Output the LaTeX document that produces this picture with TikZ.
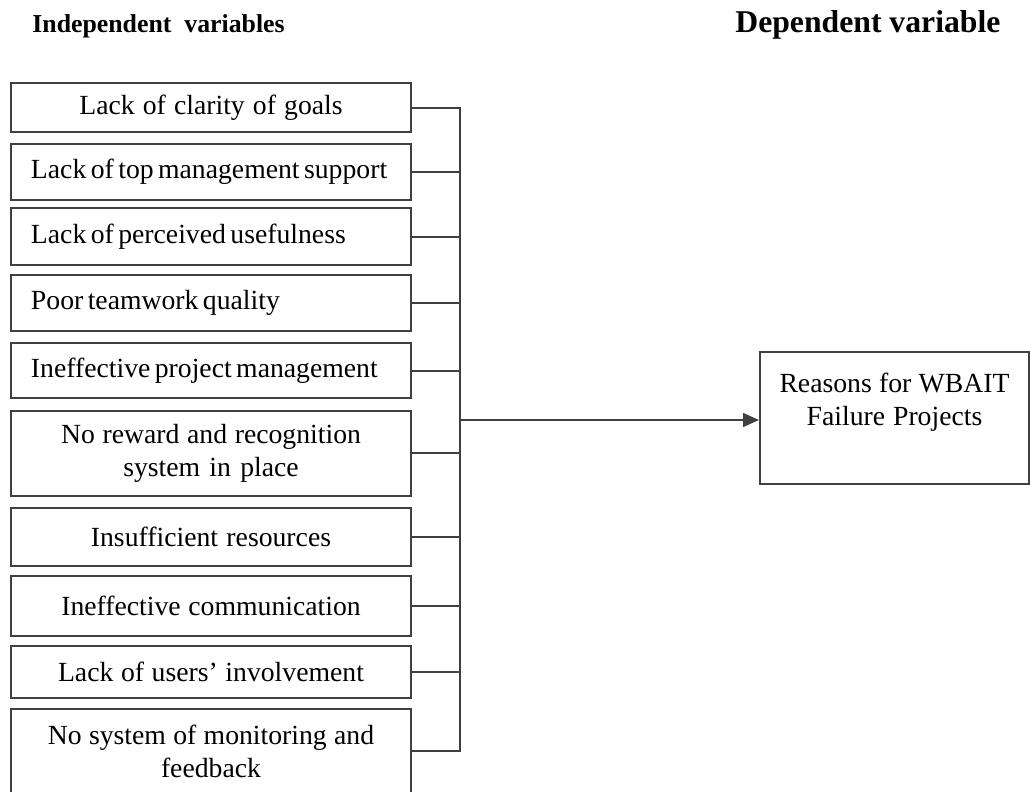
\documentclass[tikz,border=0pt]{standalone}
\usepackage{fontspec}
\setmainfont{Liberation Serif}
\usetikzlibrary{arrows.meta}

\DeclareRobustCommand{\wordgap}[1]{\spaceskip=#1 plus 0.05em minus 0.05em\relax}

\begin{document}
\begin{tikzpicture}[x=0.5pt, y=-0.5pt,
				factor/.style={rectangle, draw=black!75, line width=1pt, text width=180pt, inner xsep=10pt, inner ysep=0pt, align=center, font=\fontsize{13.85}{16.5}\selectfont, execute at begin node={\wordgap{0.25em}}},
				lfactor/.style={factor, align=left, execute at begin node={\wordgap{0.16em}}},
				outcome/.style={rectangle, draw=black!75, line width=1pt, minimum width=134.5pt, minimum height=65.5pt, inner sep=0pt},
				head/.style={inner sep=0pt, anchor=base west},
				link/.style={draw=black!75, line width=0.8pt},
				arrow/.style={link, -{Triangle[length=8pt, width=7pt]}}]

					\useasboundingbox (0,0) rectangle (1030,792);

					\node[head, font=\fontsize{12.9}{15}\selectfont\bfseries] (indep) at (32,33) {Independent\ \ variables};
					\node[head, font=\fontsize{15.85}{18}\selectfont\bfseries] (dep) at (735,33) {Dependent variable};

					\node[factor, minimum height=24.5pt] (goals) at (211,108) {Lack of clarity of goals};
					\node[lfactor, minimum height=28pt] (topmgmt) at (211,172) {Lack of top management support};
					\node[lfactor, minimum height=28.5pt] (useful) at (211,237) {Lack of perceived usefulness};
					\node[lfactor, minimum height=28pt] (teamwork) at (211,303) {Poor teamwork quality};
					\node[lfactor, minimum height=27.5pt] (projmgmt) at (211,371) {Ineffective project management};
					\node[factor, minimum height=42.5pt] (reward) at (211,453) {No reward and recognition\\ system in place};
					\node[factor, minimum height=29pt] (resources) at (211,537) {Insufficient resources};
					\node[factor, minimum height=30pt] (comm) at (211,606) {Ineffective communication};
					\node[factor, minimum height=26pt] (users) at (211,672) {Lack of users’ involvement};
					\node[factor, minimum height=42.5pt] (monitor) at (211,751) {No system of monitoring and\\ feedback};

					\node[outcome] (reasons) at (894.5,418) {};
					\node[factor, text width=130pt, inner xsep=0pt, anchor=north, yshift=-10pt, draw=none] (reasonstext) at (reasons.north) {Reasons for WBAIT\\ Failure Projects};

					\coordinate (bustop) at (460,108);
					\coordinate (busbot) at (460,751);
					\coordinate (busmid) at (460,420);

					\draw[link] (goals.east) -- (bustop) -- (busbot) -- (monitor.east);
					\draw[link] (topmgmt.east) -- (topmgmt.east -| bustop);
					\draw[link] (useful.east) -- (useful.east -| bustop);
					\draw[link] (teamwork.east) -- (teamwork.east -| bustop);
					\draw[link] (projmgmt.east) -- (projmgmt.east -| bustop);
					\draw[link] (reward.east) -- (reward.east -| bustop);
					\draw[link] (resources.east) -- (resources.east -| bustop);
					\draw[link] (comm.east) -- (comm.east -| bustop);
					\draw[link] (users.east) -- (users.east -| bustop);
					\draw[arrow] (busmid) -- (busmid -| reasons.west);
				\end{tikzpicture}
\end{document}
